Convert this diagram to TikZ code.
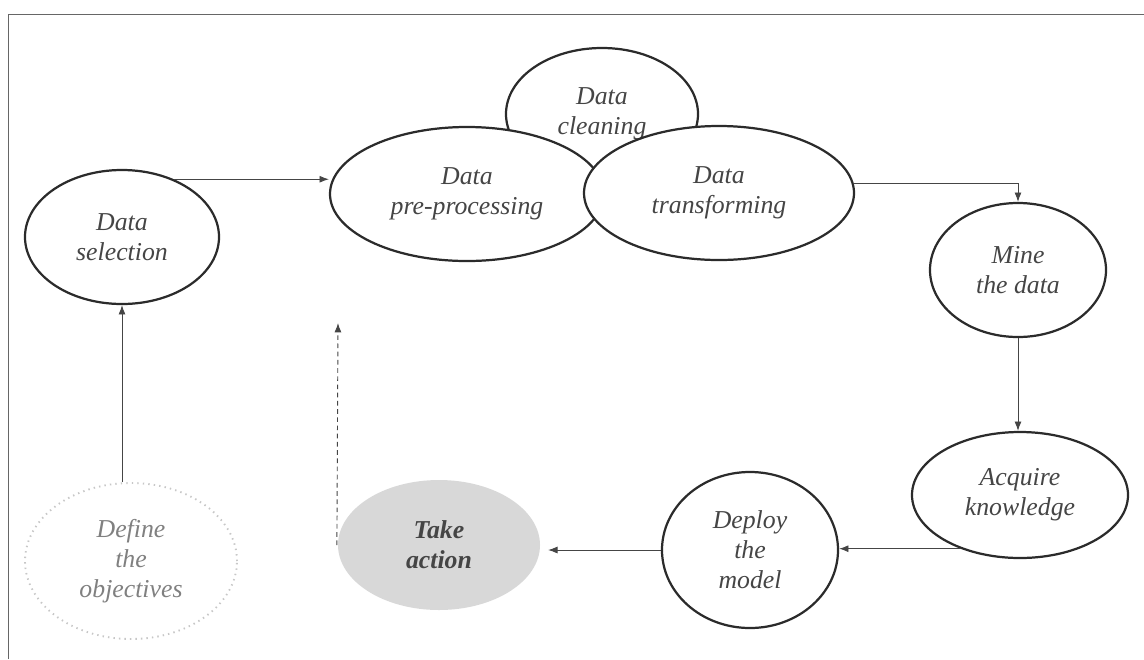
\documentclass[tikz,border=0pt]{standalone}
\usepackage{fontspec}
\setmainfont{Liberation Serif}
\usepackage{tikz}
\usetikzlibrary{arrows.meta,shapes.geometric}

\definecolor{inkline}{HTML}{2B2B2B}
\definecolor{inktext}{HTML}{454545}
\definecolor{actfill}{HTML}{D8D8D8}

\tikzset{
  stage/.style={ellipse, draw=inkline, line width=1.9pt, fill=white, inner sep=0pt,
    align=center, text=inktext, font=\fontsize{22}{25.6}\selectfont\itshape},
  goal/.style={stage, draw=black!22, line width=1.6pt, dash pattern=on 1.2pt off 3.5pt,
    text=black!50},
  action/.style={stage, draw=none, fill=actfill, text=inktext,
    font=\fontsize{22}{25.6}\selectfont\bfseries\itshape},
  arr/.style={-{Latex[length=8pt,width=6pt]}, draw=inktext, line width=0.8pt},
}

\begin{document}
\begin{tikzpicture}[x=0.03cm, y=-0.03cm]
\useasboundingbox (0,0) rectangle (1144,659);
% frame
\draw[black!60, line width=0.8pt] (8,659) -- (8,14) -- (1144,14);

% stages
\node[goal, minimum width=6.36cm, minimum height=4.68cm] (obj) at (131,561) {Define\\the\\objectives};
\node[stage, minimum width=5.82cm, minimum height=4.02cm] (sel) at (122,237) {Data\\selection};
\node[stage, minimum width=5.76cm, minimum height=3.96cm] (clean) at (602,114) {Data\\cleaning};
\node[stage, minimum width=8.22cm, minimum height=4.02cm] (pre) at (467,194) {Data\\pre-processing};
\node[stage, minimum width=8.1cm, minimum height=4.02cm] (trans) at (719,193) {Data\\transforming};
\node[stage, minimum width=5.28cm, minimum height=4.02cm] (mine) at (1018,270) {Mine\\the data};
\node[stage, minimum width=6.48cm, minimum height=3.78cm] (acq) at (1020,495) {Acquire\\knowledge};
\node[stage, minimum width=5.28cm, minimum height=4.68cm] (dep) at (750,550) {Deploy\\the\\model};
\node[action, minimum width=6.06cm, minimum height=3.9cm] (act) at (439,545) {Take\\action};
\coordinate (back) at (338,323);

% flow
\draw[arr] (sel.south |- obj.north) -- (sel.south);
\draw[arr] (sel.48) -- (sel.48 -| pre.west);
\draw[arr] (trans.4) -| (mine.north);
\draw[arr] (mine.south) -- (mine.south |- acq.north);
\draw[arr] (acq.222) -- (acq.222 -| dep.east);
\draw[arr, shorten >=6pt] (dep.west) -- (dep.west -| act.east);
\draw[arr, dash pattern=on 4pt off 3pt] (act.west) -- (back);
\end{tikzpicture}
\end{document}
